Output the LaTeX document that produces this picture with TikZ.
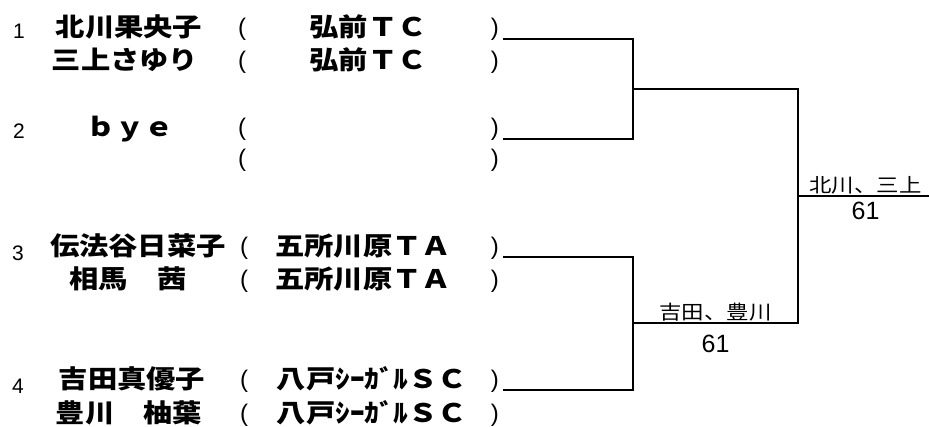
\documentclass[tikz,border=0pt]{standalone}
\usepackage{fontspec}
\setmainfont{Liberation Sans}
\newfontfamily\jpfont{Noto Sans CJK JP}[FakeStretch=1.15]
\usepackage{tikz}
\usetikzlibrary{calc, positioning}

\begin{document}
\begin{tikzpicture}[x=1pt, y=-1pt,
    seed/.style={anchor=base, inner sep=0pt, font=\fontsize{21}{21}\selectfont},
    player/.style={anchor=base, inner sep=0pt, font=\jpfont\bfseries\fontsize{25.5}{26}\selectfont},
    paren/.style={inner sep=0pt, font=\fontsize{24}{24}\selectfont},
    winner/.style={anchor=base, inner sep=0pt, font=\jpfont\fontsize{19.5}{20}\selectfont},
    score/.style={anchor=base, inner sep=0pt, font=\fontsize{25}{25}\selectfont},
    bracket/.style={line width=1.6pt}]
  \useasboundingbox (0,0) rectangle (929,427);

  \node (seed1) at (19,39) [seed] {1};
  \node (name1a) at (129,37) [player] {北川果央子};
  \node (name1b) at (125,70) [player] {三上さゆり};
  \node (club1a) at (368,37) [player] {弘前ＴＣ};
  \node (club1b) at (368,70) [player] {弘前ＴＣ};
  \node (lp1a) at (238,36) [paren, anchor=base west] {(};
  \node (lp1b) at (238,69) [paren, anchor=base west] {(};
  \node (rp1a) at (499,36) [paren, anchor=base east] {)};
  \node (rp1b) at (499,69) [paren, anchor=base east] {)};

  \node (seed2) at (19,139) [seed] {2};
  \node (name2a) at (130,137) [player] {ｂｙｅ};
  \node (lp2a) at (238,136) [paren, anchor=base west] {(};
  \node (lp2b) at (238,167) [paren, anchor=base west] {(};
  \node (rp2a) at (499,136) [paren, anchor=base east] {)};
  \node (rp2b) at (499,167) [paren, anchor=base east] {)};

  \node (seed3) at (18,261) [seed] {3};
  \node (name3a) at (138,256) [player] {伝法谷日菜子};
  \node (name3b) at (128,289) [player] {相馬　茜};
  \node (club3a) at (363,256) [player] {五所川原ＴＡ};
  \node (club3b) at (363,289) [player] {五所川原ＴＡ};
  \node (lp3a) at (240,255) [paren, anchor=base west] {(};
  \node (lp3b) at (240,288) [paren, anchor=base west] {(};
  \node (rp3a) at (499,255) [paren, anchor=base east] {)};
  \node (rp3b) at (499,288) [paren, anchor=base east] {)};

  \node (seed4) at (18,394) [seed] {4};
  \node (name4a) at (132,389) [player] {吉田真優子};
  \node (name4b) at (129,422) [player] {豊川　柚葉};
  \node (club4a) at (372,389) [player] {八戸ｼｰｶﾞﾙＳＣ};
  \node (club4b) at (372,422) [player] {八戸ｼｰｶﾞﾙＳＣ};
  \node (lp4a) at (240,388) [paren, anchor=base west] {(};
  \node (lp4b) at (240,421) [paren, anchor=base west] {(};
  \node (rp4a) at (499,388) [paren, anchor=base east] {)};
  \node (rp4b) at (499,421) [paren, anchor=base east] {)};

  \coordinate (start1) at (503,39);
  \coordinate (start2) at (503,139);
  \coordinate (start3) at (503,257);
  \coordinate (start4) at (503,390);
  \coordinate (semi1) at (633,89);
  \coordinate (semi2) at (633,323);
  \coordinate (final) at (798,196);
  \coordinate (champ) at (929,196);

  \draw[bracket] (start1) -- (start1 -| semi1) -- (start2 -| semi1) -- (start2);
  \draw[bracket] (start3) -- (start3 -| semi2) -- (start4 -| semi2) -- (start4);
  \draw[bracket] (semi1) -- (semi1 -| final) -- (semi2 -| final) -- (semi2);
  \draw[bracket] (final) -- (champ);

  \node (win2) at ($(semi2)!0.5!(semi2 -| final)+(0,-3)$) [winner] {吉田、豊川};
  \node (score2) at ($(semi2)!0.5!(semi2 -| final)+(0,30)$) [score] {61};
  \node (win1) at ($(final)!0.5!(champ)+(2,-3)$) [winner] {北川、三上};
  \node (score1) at ($(final)!0.5!(champ)+(2,24)$) [score] {61};
\end{tikzpicture}
\end{document}
